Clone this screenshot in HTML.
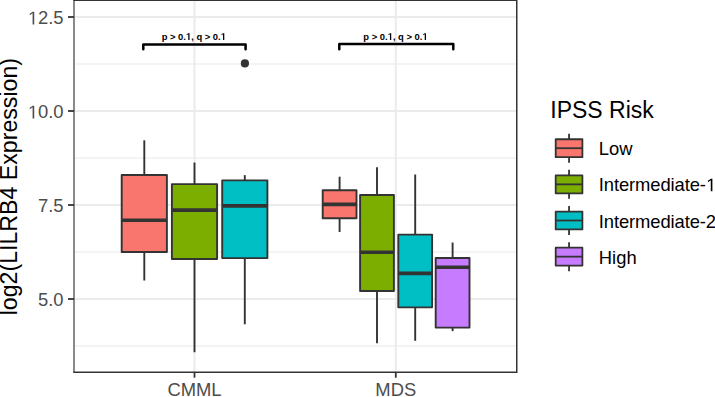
<!DOCTYPE html><html><head><meta charset="utf-8"><style>html,body{margin:0;padding:0;background:#fff;width:715px;height:397px;overflow:hidden}svg{display:block}text{font-family:"Liberation Sans",sans-serif}</style></head><body>
<svg width="715" height="397" viewBox="0 0 715 397">
<rect x="0" y="0" width="715" height="397" fill="#fff"/>
<line x1="74.0" x2="516.75" y1="64.0" y2="64.0" stroke="#F4F4F4" stroke-width="2"/>
<line x1="74.0" x2="516.75" y1="158.0" y2="158.0" stroke="#F4F4F4" stroke-width="2"/>
<line x1="74.0" x2="516.75" y1="252.0" y2="252.0" stroke="#F4F4F4" stroke-width="2"/>
<line x1="74.0" x2="516.75" y1="346.0" y2="346.0" stroke="#F4F4F4" stroke-width="2"/>
<line x1="74.0" x2="516.75" y1="17.0" y2="17.0" stroke="#EBEBEB" stroke-width="2"/>
<line x1="74.0" x2="516.75" y1="111.0" y2="111.0" stroke="#EBEBEB" stroke-width="2"/>
<line x1="74.0" x2="516.75" y1="205.0" y2="205.0" stroke="#EBEBEB" stroke-width="2"/>
<line x1="74.0" x2="516.75" y1="299.0" y2="299.0" stroke="#EBEBEB" stroke-width="2"/>
<line x1="194.5" x2="194.5" y1="0.2" y2="372.2" stroke="#EBEBEB" stroke-width="2"/>
<line x1="395.8" x2="395.8" y1="0.2" y2="372.2" stroke="#EBEBEB" stroke-width="2"/>
<line x1="144.3" x2="144.3" y1="140.3" y2="175.0" stroke="#333333" stroke-width="1.9"/>
<line x1="144.3" x2="144.3" y1="252.0" y2="280.5" stroke="#333333" stroke-width="1.9"/>
<rect x="121.70000000000002" y="175.0" width="45.2" height="77.0" fill="#F8766D" stroke="#333333" stroke-width="1.9" stroke-linejoin="round"/>
<line x1="121.70000000000002" x2="166.9" y1="220.3" y2="220.3" stroke="#333333" stroke-width="3.6"/>
<line x1="194.5" x2="194.5" y1="162.5" y2="184.1" stroke="#333333" stroke-width="1.9"/>
<line x1="194.5" x2="194.5" y1="259.05" y2="352.2" stroke="#333333" stroke-width="1.9"/>
<rect x="171.9" y="184.1" width="45.2" height="74.95000000000002" fill="#7CAE00" stroke="#333333" stroke-width="1.9" stroke-linejoin="round"/>
<line x1="171.9" x2="217.1" y1="210.1" y2="210.1" stroke="#333333" stroke-width="3.6"/>
<line x1="244.8" x2="244.8" y1="175.1" y2="180.4" stroke="#333333" stroke-width="1.9"/>
<line x1="244.8" x2="244.8" y1="258.1" y2="324.3" stroke="#333333" stroke-width="1.9"/>
<rect x="222.20000000000002" y="180.4" width="45.2" height="77.70000000000002" fill="#00BFC4" stroke="#333333" stroke-width="1.9" stroke-linejoin="round"/>
<line x1="222.20000000000002" x2="267.40000000000003" y1="205.9" y2="205.9" stroke="#333333" stroke-width="3.6"/>
<line x1="339.6" x2="339.6" y1="176.7" y2="190.2" stroke="#333333" stroke-width="1.9"/>
<line x1="339.6" x2="339.6" y1="218.3" y2="232.0" stroke="#333333" stroke-width="1.9"/>
<rect x="322.70000000000005" y="190.2" width="33.8" height="28.100000000000023" fill="#F8766D" stroke="#333333" stroke-width="1.9" stroke-linejoin="round"/>
<line x1="322.70000000000005" x2="356.5" y1="204.4" y2="204.4" stroke="#333333" stroke-width="3.6"/>
<line x1="377.0" x2="377.0" y1="167.3" y2="195.0" stroke="#333333" stroke-width="1.9"/>
<line x1="377.0" x2="377.0" y1="290.95" y2="343.3" stroke="#333333" stroke-width="1.9"/>
<rect x="360.1" y="195.0" width="33.8" height="95.94999999999999" fill="#7CAE00" stroke="#333333" stroke-width="1.9" stroke-linejoin="round"/>
<line x1="360.1" x2="393.9" y1="252.3" y2="252.3" stroke="#333333" stroke-width="3.6"/>
<line x1="415.2" x2="415.2" y1="174.5" y2="234.6" stroke="#333333" stroke-width="1.9"/>
<line x1="415.2" x2="415.2" y1="307.35" y2="340.8" stroke="#333333" stroke-width="1.9"/>
<rect x="398.3" y="234.6" width="33.8" height="72.75000000000003" fill="#00BFC4" stroke="#333333" stroke-width="1.9" stroke-linejoin="round"/>
<line x1="398.3" x2="432.09999999999997" y1="273.4" y2="273.4" stroke="#333333" stroke-width="3.6"/>
<line x1="452.6" x2="452.6" y1="242.5" y2="258.0" stroke="#333333" stroke-width="1.9"/>
<line x1="452.6" x2="452.6" y1="327.6" y2="331.1" stroke="#333333" stroke-width="1.9"/>
<rect x="435.70000000000005" y="258.0" width="33.8" height="69.60000000000002" fill="#C77CFF" stroke="#333333" stroke-width="1.9" stroke-linejoin="round"/>
<line x1="435.70000000000005" x2="469.5" y1="267.3" y2="267.3" stroke="#333333" stroke-width="3.6"/>
<circle cx="244.9" cy="63.4" r="4.1" fill="#333333"/>
<path d="M143.3 49.3 V44.5 H245.6 V49.3" fill="none" stroke="#000" stroke-width="2.5" stroke-linecap="round" stroke-linejoin="round"/>
<path d="M339.3 49.3 V44.1 H453.3 V49.3" fill="none" stroke="#000" stroke-width="2.5" stroke-linecap="round" stroke-linejoin="round"/>
<text x="193.8" y="40" font-size="9.9" font-weight="bold" textLength="64.3" lengthAdjust="spacingAndGlyphs" text-anchor="middle" fill="#000">p &gt; 0.&#x2007;, q &gt; 0.&#x2007;</text>
<text x="395.5" y="40" font-size="9.9" font-weight="bold" textLength="64.3" lengthAdjust="spacingAndGlyphs" text-anchor="middle" fill="#000">p &gt; 0.&#x2007;, q &gt; 0.&#x2007;</text>
<path d="M73.4 0.2H516.75V372.2H73.4" fill="none" stroke="#333333" stroke-width="1.5"/>
<line x1="74.0" x2="74.0" y1="-0.8" y2="372.95" stroke="#333333" stroke-width="1.15"/>
<line x1="68" x2="74.0" y1="17.0" y2="17.0" stroke="#333333" stroke-width="1.8"/>
<text x="63.5" y="24.4" font-size="18.4" text-anchor="end" fill="#4D4D4D">&#x2007;2.5</text>
<line x1="68" x2="74.0" y1="111.0" y2="111.0" stroke="#333333" stroke-width="1.8"/>
<text x="63.5" y="118.4" font-size="18.4" text-anchor="end" fill="#4D4D4D">&#x2007;0.0</text>
<line x1="68" x2="74.0" y1="205.0" y2="205.0" stroke="#333333" stroke-width="1.8"/>
<text x="63.5" y="212.4" font-size="18.4" text-anchor="end" fill="#4D4D4D">7.5</text>
<line x1="68" x2="74.0" y1="299.0" y2="299.0" stroke="#333333" stroke-width="1.8"/>
<text x="63.5" y="306.4" font-size="18.4" text-anchor="end" fill="#4D4D4D">5.0</text>
<line x1="194.5" x2="194.5" y1="372.2" y2="377.7" stroke="#333333" stroke-width="1.8"/>
<text x="194.5" y="396.3" font-size="18.4" text-anchor="middle" fill="#4D4D4D">CMML</text>
<line x1="395.8" x2="395.8" y1="372.2" y2="377.7" stroke="#333333" stroke-width="1.8"/>
<text x="395.8" y="396.3" font-size="18.4" text-anchor="middle" fill="#4D4D4D">MDS</text>
<text transform="translate(17.2,186.65) rotate(-90)" font-size="23.15" text-anchor="middle" fill="#000">log2(LILRB4 Expression)</text>
<text x="550.3" y="117.8" font-size="23" fill="#000">IPSS Risk</text>
<line x1="569.05" x2="569.05" y1="133.7" y2="162.7" stroke="#333333" stroke-width="1.8"/>
<rect x="555.7" y="139.25" width="26.7" height="17.9" fill="#F8766D" stroke="#333333" stroke-width="1.8" stroke-linejoin="round"/>
<line x1="555.7" x2="582.4" y1="148.2" y2="148.2" stroke="#333333" stroke-width="1.8"/>
<text x="598.8" y="155.2" font-size="18.4" fill="#000">Low</text>
<line x1="569.05" x2="569.05" y1="169.85" y2="198.85" stroke="#333333" stroke-width="1.8"/>
<rect x="555.7" y="175.4" width="26.7" height="17.9" fill="#7CAE00" stroke="#333333" stroke-width="1.8" stroke-linejoin="round"/>
<line x1="555.7" x2="582.4" y1="184.35" y2="184.35" stroke="#333333" stroke-width="1.8"/>
<text x="598.8" y="191.35" font-size="18.4" fill="#000" textLength="117.3">Intermediate-&#x2007;</text>
<line x1="569.05" x2="569.05" y1="206.0" y2="235.0" stroke="#333333" stroke-width="1.8"/>
<rect x="555.7" y="211.55" width="26.7" height="17.9" fill="#00BFC4" stroke="#333333" stroke-width="1.8" stroke-linejoin="round"/>
<line x1="555.7" x2="582.4" y1="220.5" y2="220.5" stroke="#333333" stroke-width="1.8"/>
<text x="598.8" y="227.5" font-size="18.4" fill="#000" textLength="117.3">Intermediate-2</text>
<line x1="569.05" x2="569.05" y1="242.14999999999998" y2="271.15" stroke="#333333" stroke-width="1.8"/>
<rect x="555.7" y="247.7" width="26.7" height="17.9" fill="#C77CFF" stroke="#333333" stroke-width="1.8" stroke-linejoin="round"/>
<line x1="555.7" x2="582.4" y1="256.65" y2="256.65" stroke="#333333" stroke-width="1.8"/>
<text x="598.8" y="263.65" font-size="18.4" fill="#000">High</text>
<path transform="translate(185.950,40.000) scale(0.00460,-0.00483)" d="M500 0V1170L162 959V1180L515 1409H781V0Z" fill="#000"/>
<path transform="translate(220.712,40.000) scale(0.00460,-0.00483)" d="M500 0V1170L162 959V1180L515 1409H781V0Z" fill="#000"/>
<path transform="translate(387.650,40.000) scale(0.00460,-0.00483)" d="M500 0V1170L162 959V1180L515 1409H781V0Z" fill="#000"/>
<path transform="translate(422.412,40.000) scale(0.00460,-0.00483)" d="M500 0V1170L162 959V1180L515 1409H781V0Z" fill="#000"/>
<path transform="translate(27.703,24.400) scale(0.00899,-0.00898)" d="M545 0V1237L227 1010V1180L560 1409H726V0Z" fill="#4D4D4D"/>
<path transform="translate(27.703,118.400) scale(0.00899,-0.00898)" d="M545 0V1237L227 1010V1180L560 1409H726V0Z" fill="#4D4D4D"/>
<path transform="translate(705.866,191.350) scale(0.00899,-0.00898)" d="M545 0V1237L227 1010V1180L560 1409H726V0Z" fill="#000"/>
</svg></body></html>
